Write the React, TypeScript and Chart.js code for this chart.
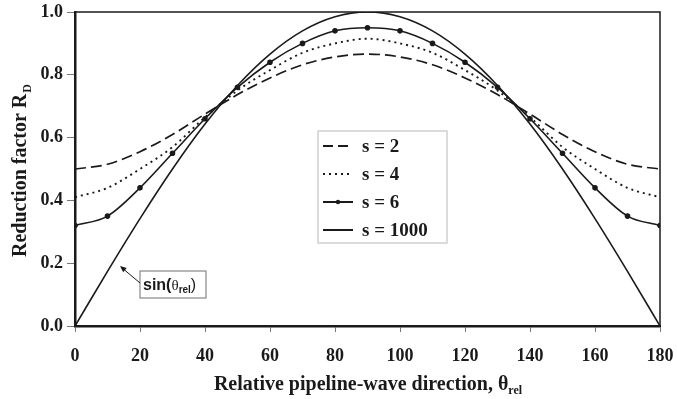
import React, { useEffect, useRef } from "react";
import { Chart, registerables } from "chart.js";
Chart.register(...registerables);

const theta = [0, 10, 20, 30, 40, 50, 60, 70, 80, 90, 100, 110, 120, 130, 140, 150, 160, 170, 180];
const s2 = [0.5, 0.515, 0.555, 0.61, 0.675, 0.737, 0.79, 0.832, 0.857, 0.866, 0.857, 0.832, 0.79, 0.737, 0.675, 0.61, 0.555, 0.515, 0.5];
const s4 = [0.41, 0.44, 0.5, 0.57, 0.665, 0.75, 0.815, 0.87, 0.9, 0.915, 0.9, 0.87, 0.815, 0.75, 0.665, 0.57, 0.5, 0.44, 0.41];
const s6 = [0.32, 0.35, 0.44, 0.55, 0.66, 0.76, 0.84, 0.9, 0.94, 0.95, 0.94, 0.9, 0.84, 0.76, 0.66, 0.55, 0.44, 0.35, 0.32];
const s1000 = [0, 0.174, 0.342, 0.5, 0.643, 0.766, 0.866, 0.94, 0.985, 1.0, 0.985, 0.94, 0.866, 0.766, 0.643, 0.5, 0.342, 0.174, 0];
const legendLabels = ["s = 2", "s = 4", "s = 6", "s = 1000"];
const xTicks = [0, 20, 40, 60, 80, 100, 120, 140, 160, 180];
const yTicks = [0, 0.2, 0.4, 0.6, 0.8, 1.0];

const SERIF = "'Liberation Serif', 'Times New Roman', serif";
const SANS = "'Liberation Sans', Arial, sans-serif";
const INK = "#1a1a1a";

const pts = (ys: number[]) => theta.map((t, i) => ({ x: t, y: ys[i] }));

const deco = {
  id: "deco",
  afterDraw(chart: any) {
    const { ctx, chartArea: a } = chart;
    ctx.save();
    // frame top/right
    ctx.strokeStyle = INK;
    ctx.lineWidth = 1.5;
    ctx.beginPath();
    ctx.moveTo(a.left, a.top);
    ctx.lineTo(a.right, a.top);
    ctx.lineTo(a.right, a.bottom);
    ctx.stroke();

    // Legend
    const lx = 318, ly = 131, lw = 129, lh = 112;
    ctx.fillStyle = "#fff";
    ctx.fillRect(lx, ly, lw, lh);
    ctx.strokeStyle = "#cfcfcf";
    ctx.lineWidth = 1.5;
    ctx.strokeRect(lx, ly, lw, lh);
    const rows = [146, 174, 202, 230];
    const dashes = [[10, 5], [2, 4], [], []];
    ctx.font = `bold 19px ${SERIF}`;
    ctx.textBaseline = "middle";
    rows.forEach((ry, i) => {
      ctx.strokeStyle = INK;
      ctx.lineWidth = 2;
      ctx.setLineDash(dashes[i]);
      ctx.beginPath();
      ctx.moveTo(323, ry);
      ctx.lineTo(353, ry);
      ctx.stroke();
      ctx.setLineDash([]);
      if (i === 2) {
        ctx.fillStyle = INK;
        ctx.beginPath();
        ctx.arc(338, ry, 2.2, 0, Math.PI * 2);
        ctx.fill();
      }
      ctx.fillStyle = INK;
      ctx.textAlign = "left";
      ctx.fillText(legendLabels[i], 362, ry + 1);
    });

    // Annotation
    ctx.fillStyle = "#fff";
    ctx.fillRect(140, 271, 66, 27);
    ctx.strokeStyle = "#888";
    ctx.lineWidth = 1.2;
    ctx.strokeRect(140, 271, 66, 27);
    ctx.fillStyle = INK;
    ctx.textBaseline = "alphabetic";
    ctx.textAlign = "left";
    ctx.font = `bold 16px ${SANS}`;
    let tx = 143;
    ctx.fillText("sin(", tx, 290);
    tx += ctx.measureText("sin(").width;
    ctx.font = `15px ${SERIF}`;
    ctx.fillText("\u03b8", tx, 290);
    tx += ctx.measureText("\u03b8").width;
    ctx.font = `bold 10px ${SANS}`;
    ctx.fillText("rel", tx, 293);
    tx += ctx.measureText("rel").width;
    ctx.font = `16px ${SANS}`;
    ctx.fillText(")", tx, 290);
    // arrow
    ctx.strokeStyle = INK;
    ctx.lineWidth = 1;
    ctx.beginPath();
    ctx.moveTo(140, 283);
    ctx.lineTo(121, 267);
    ctx.stroke();
    const ang = Math.atan2(267 - 283, 121 - 140);
    ctx.beginPath();
    ctx.moveTo(120, 266);
    ctx.lineTo(120 - 7 * Math.cos(ang - 0.4), 266 - 7 * Math.sin(ang - 0.4));
    ctx.lineTo(120 - 7 * Math.cos(ang + 0.4), 266 - 7 * Math.sin(ang + 0.4));
    ctx.closePath();
    ctx.fill();

    // X title
    ctx.fillStyle = INK;
    ctx.font = `bold 20px ${SERIF}`;
    const main = "Relative pipeline-wave direction, \u03b8";
    const mw = ctx.measureText(main).width;
    ctx.font = `bold 12px ${SERIF}`;
    const sw = ctx.measureText("rel").width;
    const xs = 368 - (mw + sw) / 2;
    ctx.font = `bold 20px ${SERIF}`;
    ctx.fillText(main, xs, 390);
    ctx.font = `bold 12px ${SERIF}`;
    ctx.fillText("rel", xs + mw, 394);

    // Y title
    ctx.save();
    ctx.translate(26, 171);
    ctx.rotate(-Math.PI / 2);
    ctx.font = `bold 20px ${SERIF}`;
    const ym = "Reduction factor R";
    const ymw = ctx.measureText(ym).width;
    ctx.font = `bold 12px ${SERIF}`;
    const ysw = ctx.measureText("D").width;
    const y0 = -(ymw + ysw) / 2;
    ctx.font = `bold 20px ${SERIF}`;
    ctx.fillText(ym, y0, 0);
    ctx.font = `bold 12px ${SERIF}`;
    ctx.fillText("D", y0 + ymw + 1, 5);
    ctx.restore();

    ctx.restore();
  },
};

export default function App() {
  const ref = useRef<HTMLCanvasElement>(null);
  useEffect(() => {
    const prevMargin = document.body.style.margin;
    document.body.style.margin = "0";
    const chart = new Chart(ref.current!, {
      type: "line",
      data: {
        datasets: [
          { label: legendLabels[0], data: pts(s2), borderColor: INK, borderWidth: 1.7, borderDash: [11, 5], pointRadius: 0, cubicInterpolationMode: "monotone" },
          { label: legendLabels[1], data: pts(s4), borderColor: INK, borderWidth: 1.9, borderDash: [2, 4], pointRadius: 0, cubicInterpolationMode: "monotone" },
          { label: legendLabels[2], data: pts(s6), borderColor: INK, borderWidth: 1.6, pointRadius: 2, pointBackgroundColor: INK, pointBorderColor: INK, cubicInterpolationMode: "monotone" },
          { label: legendLabels[3], data: pts(s1000), borderColor: INK, borderWidth: 1.6, pointRadius: 0, cubicInterpolationMode: "monotone" },
        ],
      } as any,
      options: {
        animation: false,
        responsive: false,
        maintainAspectRatio: false,
        layout: { padding: { left: 0, top: 12, right: 17, bottom: 0 } },
        plugins: { legend: { display: false }, tooltip: { enabled: false } },
        scales: {
          x: {
            type: "linear",
            min: 0,
            max: 180,
            afterFit: (s: any) => { s.height = 73; s.paddingLeft = 0; s.paddingRight = 0; },
            afterBuildTicks: (s: any) => { s.ticks = xTicks.map((v) => ({ value: v })); },
            ticks: { color: INK, font: { family: SERIF, size: 18, weight: "bold" }, padding: 14, maxRotation: 0 },
            grid: { display: true, drawOnChartArea: false, drawTicks: true, tickLength: 6, color: "#777", lineWidth: 1 },
            border: { display: true, color: INK, width: 2.5 },
          },
          y: {
            type: "linear",
            min: 0,
            max: 1,
            afterFit: (s: any) => { s.width = 75; s.paddingTop = 0; s.paddingBottom = 0; },
            afterBuildTicks: (s: any) => { s.ticks = yTicks.map((v) => ({ value: v })); },
            ticks: { color: INK, font: { family: SERIF, size: 18, weight: "bold" }, padding: 4, callback: (v: any) => Number(v).toFixed(1) },
            grid: { display: true, drawOnChartArea: false, drawTicks: true, tickLength: 8, color: "#777", lineWidth: 1 },
            border: { display: true, color: INK, width: 2.5 },
          },
        },
      } as any,
      plugins: [deco],
    });
    return () => {
      chart.destroy();
      document.body.style.margin = prevMargin;
    };
  }, []);
  return (
    <div style={{ position: "fixed", left: 0, top: 0, width: 677, height: 399, background: "#fff" }}>
      <canvas ref={ref} width={677} height={399} style={{ width: 677, height: 399, display: "block" }} />
    </div>
  );
}
